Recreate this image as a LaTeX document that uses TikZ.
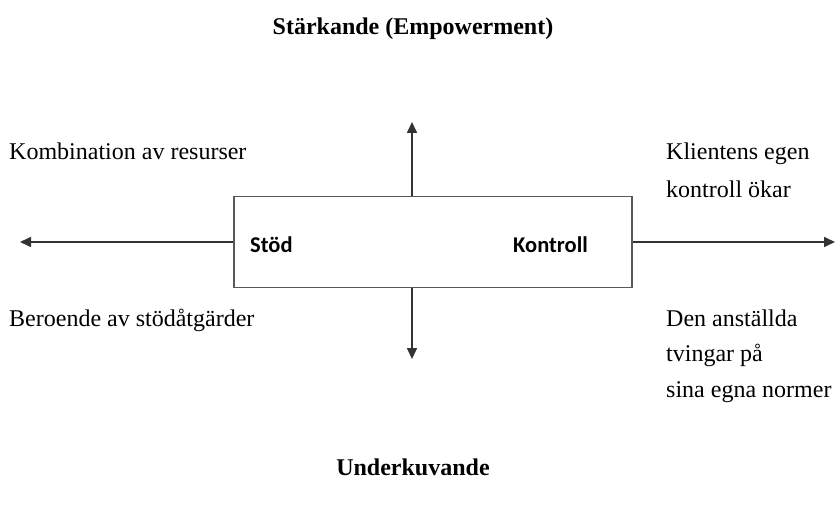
\documentclass[tikz,border=0pt]{standalone}
\usepackage{fontspec}
\setmainfont{Liberation Serif}
\newfontfamily\boxfont{Carlito}
\usetikzlibrary{arrows.meta}
\begin{document}
\begin{tikzpicture}[x=1pt,y=-1pt,
  lbl/.style={anchor=base west,inner sep=0pt,font=\fontsize{24}{28}\selectfont},
  ttl/.style={anchor=base,inner sep=0pt,font=\fontsize{24}{28}\selectfont\bfseries},
  inbox/.style={anchor=base west,inner sep=0pt,font=\boxfont\fontsize{22.5}{26}\selectfont\bfseries},
  arr/.style={draw=black!80,line width=1.6pt,-{Triangle[length=11pt,width=10pt]}}]
\useasboundingbox (0,0) rectangle (835,508);
\node[draw=black!65,line width=1.6pt,minimum width=398pt,minimum height=91pt,inner sep=0pt] (box) at (433,242) {};
\coordinate (top) at (412,122);
\coordinate (bot) at (412,359);
\coordinate (lft) at (20,242);
\coordinate (rgt) at (835,242);
\draw[arr] (412,196.4) -- (top);
\draw[arr] (412,287.6) -- (bot);
\draw[arr] (box.west) -- (lft);
\draw[arr] (box.east) -- (rgt);
\node[inbox] (stod) at (250,252) {Stöd};
\node[inbox] (kontroll) at (513,252) {Kontroll};
\node[ttl] (t1) at (413,35) {Stärkande (Empowerment)};
\node[ttl] (t2) at (413,475) {Underkuvande};
\node[lbl] (a) at (9,160) {Kombination av resurser};
\node[lbl] (b) at (9,326) {Beroende av stödåtgärder};
\node[lbl] (c1) at (666,160) {Klientens egen};
\node[lbl] (c2) at (666,197) {kontroll ökar};
\node[lbl] (d1) at (666,326) {Den anställda};
\node[lbl] (d2) at (666,361) {tvingar på};
\node[lbl] (d3) at (666,397) {sina egna normer};
\end{tikzpicture}
\end{document}
